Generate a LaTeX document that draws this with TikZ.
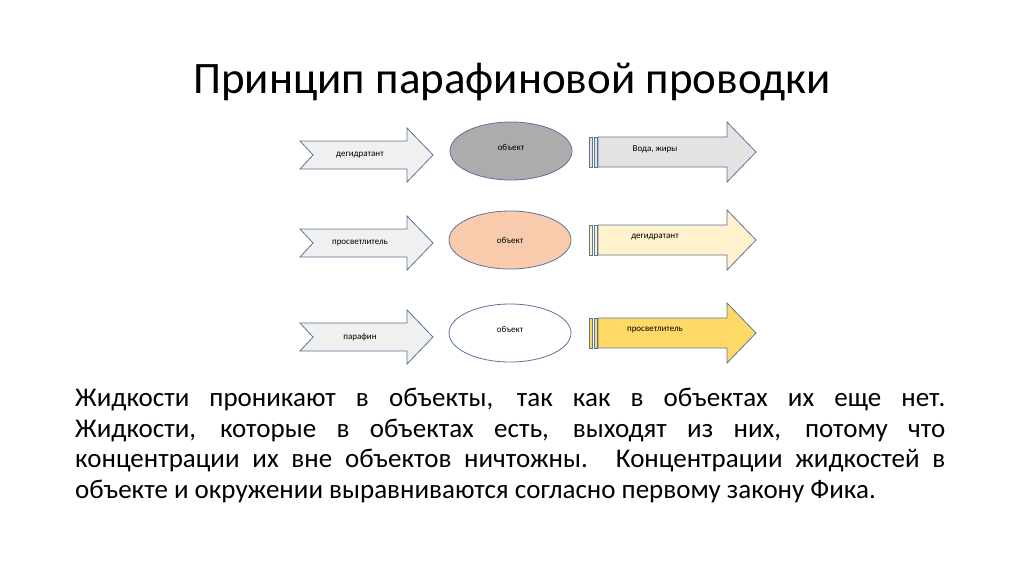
\documentclass[tikz,border=0pt]{standalone}
\usepackage{fontspec}
\setmainfont{Carlito}
\usetikzlibrary{shapes.geometric}
\definecolor{edge}{HTML}{5A7599}
\tikzset{
 lbl/.style={font=\fontsize{9}{10}\selectfont},
 obj/.style={ellipse,draw=edge,line width=0.8pt,minimum width=122pt,minimum height=58pt,font=\fontsize{9}{10}\selectfont},
 sh/.style={draw=edge,line width=0.8pt}
}
\newcommand{\leftarr}[2]{% mid y, label
 \draw[sh,fill=gray!12] (300,#1-14) -- (407,#1-14) -- (407,#1-27) -- (433,#1) -- (407,#1+27) -- (407,#1+14) -- (300,#1+14) -- (313,#1) -- cycle;
 \node[lbl] at (360,#1) {#2};}
\newcommand{\rightarr}[3]{% mid y, fill, label
 \draw[sh,fill=#2] (589,#1-15) rectangle (592,#1+15);
 \draw[sh,fill=#2] (594,#1-15) rectangle (597,#1+15);
 \draw[sh,fill=#2] (598,#1-15) -- (727,#1-15) -- (727,#1-30) -- (756,#1) -- (727,#1+30) -- (727,#1+15) -- (598,#1+15) -- cycle;
 \node[lbl] at (655,#1-3) {#3};}
\begin{document}
\begin{tikzpicture}[x=1pt,y=-1pt]
\useasboundingbox (0,0) rectangle (1024,574);
\node (title) at (512,82) {\fontsize{45}{50}\selectfont Принцип парафиновой проводки};
\leftarr{155}{дегидратант}
\leftarr{243}{просветлитель}
\leftarr{337}{парафин}
\node[obj,fill=gray!65] (o1) at (511,151) {\raisebox{8pt}{объект}};
\node[obj,fill={rgb,255:red,248;green,203;blue,173}] (o2) at (510,240) {объект};
\node[obj,fill=white] (o3) at (510,333) {\raisebox{8pt}{объект}};
\rightarr{152}{gray!22}{Вода, жиры}
\rightarr{240}{{rgb,255:red,255;green,242;blue,204}}{дегидратант}
\rightarr{333}{{rgb,255:red,255;green,217;blue,102}}{просветлитель}
\node[anchor=north west,text width=870pt,align=justify,inner sep=0pt] (txt) at (75,388) {\fontsize{27}{30.5}\selectfont Жидкости проникают в объекты, так как в объектах их еще нет.\linebreak Жидкости, которые в объектах есть, выходят из них, потому что\linebreak концентрации их вне объектов ничтожны. Концентрации жидкостей в\linebreak объекте и окружении выравниваются согласно первому закону Фика.\par};
\end{tikzpicture}
\end{document}
